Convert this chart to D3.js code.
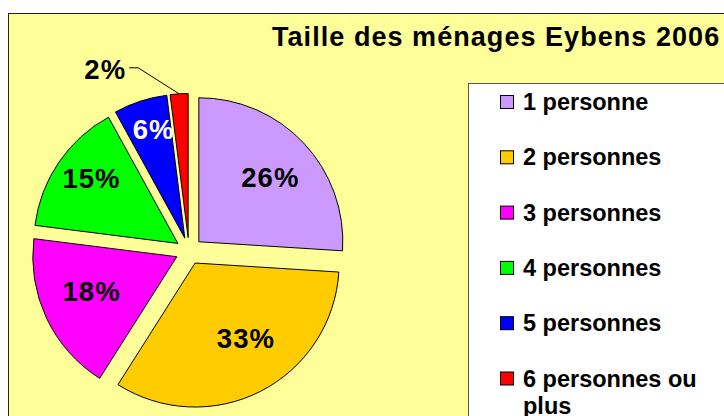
<!DOCTYPE html>
<html>
<head>
<meta charset="UTF-8">
<style>
body, html {
    margin: 0;
    padding: 0;
    width: 100%;
    height: 100%;
    overflow: hidden;
    background-color: #ffffff;
}
svg text {
    font-family: Arial, "Liberation Sans", sans-serif;
    font-weight: bold;
}
</style>
</head>
<body>
<svg id="chart"></svg>
<script src="https://d3js.org/d3.v7.min.js"></script>
<script>
// household size shares, Eybens 2006
let categories = ["1 personne", "2 personnes", "3 personnes", "4 personnes", "5 personnes", "6 personnes ou plus"];
let shares = [26, 33, 18, 15, 6, 2];
let sliceColors = ["#CC99FF", "#FFCC00", "#FF00FF", "#00FF00", "#0000FF", "#FF0000"];
let labelColors = ["#000000", "#000000", "#000000", "#000000", "#ffffff", "#000000"];
let titleText = "Taille des ménages Eybens 2006";

// small hand nudges for the inside labels (Excel "best fit" look)
let labelNudge = [[-2, 4], [5, -15], [6, -9], [-3, -9], [0, -13], [0, 0]];

let width = 724, height = 416;

let svg = d3.select("#chart")
    .attr("width", width)
    .attr("height", height);

// chart area (runs off the right and bottom edges)
svg.append("rect")
    .attr("x", 8.5).attr("y", 13.5)
    .attr("width", 760).attr("height", 440)
    .attr("fill", "#FFFF99")
    .attr("stroke", "#222")
    .attr("stroke-width", 1);

svg.append("text")
    .attr("x", 272)
    .attr("y", 46)
    .attr("font-size", "27px")
    .attr("letter-spacing", "1.05px")
    .attr("fill", "#000")
    .text(titleText);

// pie
let cx = 189, cy = 251, radius = 144, explode = 13.5;

let pie = d3.pie().sort(null).value(d => d)(shares);
let arc = d3.arc().innerRadius(0).outerRadius(radius);

function offset(d, r) {
    let a = (d.startAngle + d.endAngle) / 2;
    return [Math.sin(a) * r, -Math.cos(a) * r];
}

let slices = svg.append("g")
    .attr("transform", `translate(${cx},${cy})`)
    .selectAll("g")
    .data(pie)
    .enter()
    .append("g")
    .attr("transform", d => {
        let o = offset(d, explode);
        return `translate(${o[0]},${o[1]})`;
    });

slices.append("path")
    .attr("d", arc)
    .attr("fill", (d, i) => sliceColors[i])
    .attr("stroke", "#000")
    .attr("stroke-width", 1);

// labels inside the bigger slices
slices.filter(d => d.data >= 5)
    .append("text")
    .attr("x", d => offset(d, radius * 0.7)[0] + labelNudge[d.index][0])
    .attr("y", d => offset(d, radius * 0.7)[1] + labelNudge[d.index][1])
    .attr("dy", "0.36em")
    .attr("text-anchor", "middle")
    .attr("font-size", "27.5px")
    .attr("letter-spacing", "1px")
    .attr("fill", d => labelColors[d.index])
    .text(d => d.data + "%");

// small slice: label outside with leader line
let small = slices.filter(d => d.data < 5);
small.append("path")
    .attr("fill", "none")
    .attr("stroke", "#000")
    .attr("stroke-width", 1)
    .attr("d", d => {
        let p = offset(d, radius);
        let e = [p[0] - 41, p[1] - 26];
        return `M${p[0]},${p[1]}L${e[0]},${e[1]}L${e[0] - 9},${e[1]}`;
    });
small.append("text")
    .attr("x", d => offset(d, radius)[0] - 53)
    .attr("y", d => offset(d, radius)[1] - 25)
    .attr("dy", "0.36em")
    .attr("text-anchor", "end")
    .attr("font-size", "27.5px")
    .attr("letter-spacing", "1px")
    .attr("fill", "#000")
    .text(d => d.data + "%");

// legend
let legendX = 468, legendY = 83;
svg.append("rect")
    .attr("x", legendX + 0.5).attr("y", legendY + 0.5)
    .attr("width", 300).attr("height", 400)
    .attr("fill", "#ffffff")
    .attr("stroke", "#555")
    .attr("stroke-width", 1);

let rowStep = 55.3;
let legendItem = svg.selectAll(".legend-item")
    .data(categories)
    .enter()
    .append("g")
    .attr("class", "legend-item")
    .attr("transform", (d, i) => `translate(${legendX + 32}, ${110 + i * rowStep})`);

legendItem.append("rect")
    .attr("x", 0.5).attr("y", -14.5)
    .attr("width", 13).attr("height", 13)
    .attr("fill", (d, i) => sliceColors[i])
    .attr("stroke", "#000")
    .attr("stroke-width", 1);

legendItem.append("text")
    .attr("x", 23)
    .attr("y", 0)
    .attr("font-size", "23.5px")
    .attr("fill", "#000")
    .each(function (d) {
        // simple word wrap to fit the visible legend width
        let el = d3.select(this);
        let words = d.split(" ");
        let line = [];
        let tspan = el.append("tspan").attr("x", 23).attr("dy", 0);
        words.forEach(w => {
            line.push(w);
            tspan.text(line.join(" "));
            if (tspan.node().getComputedTextLength() > 185 && line.length > 1) {
                line.pop();
                tspan.text(line.join(" "));
                line = [w];
                tspan = el.append("tspan").attr("x", 23).attr("dy", "1.15em").text(w);
            }
        });
    });
</script>
</body>
</html>
